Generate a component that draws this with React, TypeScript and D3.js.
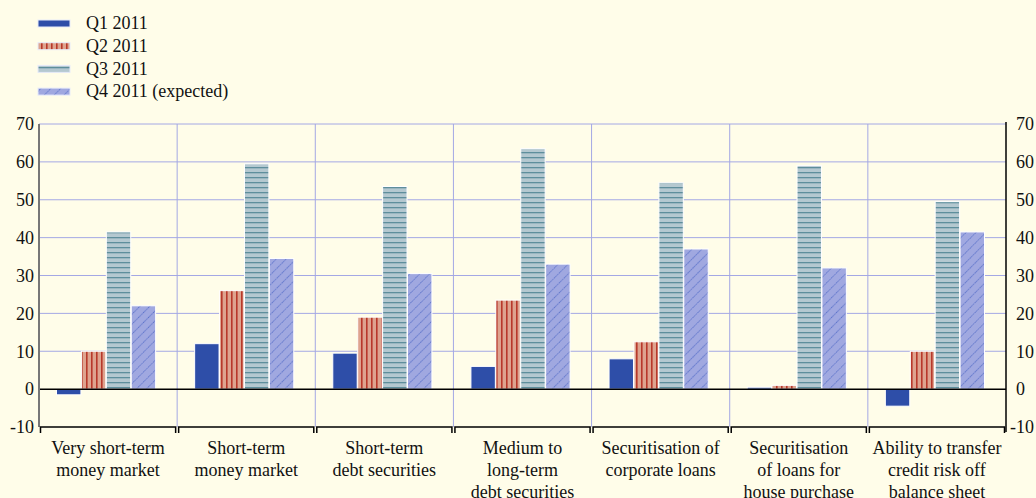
import React, { useRef, useEffect } from 'react';
import * as d3 from 'd3';

const categories = [
  ['Very short-term', 'money market'],
  ['Short-term', 'money market'],
  ['Short-term', 'debt securities'],
  ['Medium to', 'long-term', 'debt securities'],
  ['Securitisation of', 'corporate loans'],
  ['Securitisation', 'of loans for', 'house purchase'],
  ['Ability to transfer', 'credit risk off', 'balance sheet'],
];
const seriesNames = ['Q1 2011', 'Q2 2011', 'Q3 2011', 'Q4 2011 (expected)'];
const q1 = [-1.5, 12, 9.5, 6, 8, 0.5, -4.5];
const q2 = [10, 26, 19, 23.5, 12.5, 1, 10];
const q3 = [41.5, 59.5, 53.5, 63.5, 54.5, 59, 49.5];
const q4 = [22, 34.5, 30.5, 33, 37, 32, 41.5];
const yTicks = [-10, 0, 10, 20, 30, 40, 50, 60, 70];

const W = 1036;
const H = 498;
const FONT = "'Liberation Serif', 'Times New Roman', serif";

export default function App() {
  const ref = useRef<SVGSVGElement | null>(null);

  useEffect(() => {
    if (!ref.current) return;
    document.body.style.margin = '0';
    const svg = d3.select(ref.current);
    svg.selectAll('*').remove();

    const margin = { top: 124, right: 30, bottom: 71, left: 39 };
    const left = margin.left, right = W - margin.right;
    const top = margin.top, bottom = H - margin.bottom;

    svg.append('rect').attr('width', W).attr('height', H).attr('fill', '#fffde9');

    // patterns
    const defs = svg.append('defs');
    const p2 = defs.append('pattern').attr('id', 'pQ2').attr('patternUnits', 'userSpaceOnUse')
      .attr('width', 5).attr('height', 5);
    p2.append('rect').attr('width', 5).attr('height', 5).attr('fill', '#dea38f');
    p2.append('rect').attr('x', 1).attr('width', 1.6).attr('height', 5).attr('fill', '#b8382a');

    const p3 = defs.append('pattern').attr('id', 'pQ3').attr('patternUnits', 'userSpaceOnUse')
      .attr('width', 6).attr('height', 5);
    p3.append('rect').attr('width', 6).attr('height', 5).attr('fill', '#b4c8d0');
    p3.append('rect').attr('y', 2).attr('width', 6).attr('height', 1.3).attr('fill', '#5e8e9c');

    const p4 = defs.append('pattern').attr('id', 'pQ4').attr('patternUnits', 'userSpaceOnUse')
      .attr('width', 7).attr('height', 7).attr('patternTransform', 'rotate(45)');
    p4.append('rect').attr('width', 7).attr('height', 7).attr('fill', '#a0a8e0');
    p4.append('line').attr('x1', 0).attr('y1', 0).attr('x2', 0).attr('y2', 7)
      .attr('stroke', '#3a58c0').attr('stroke-width', 1.3).attr('stroke-dasharray', '1.3,0.9');

    const fills = ['#2e4ea8', 'url(#pQ2)', 'url(#pQ3)', 'url(#pQ4)'];
    const series = [q1, q2, q3, q4];

    const x0 = d3.scaleBand<number>().domain(d3.range(categories.length)).range([left, right]).padding(0);
    const x1 = d3.scaleBand<number>().domain(d3.range(series.length))
      .range([17, x0.bandwidth() - 21]).padding(0.02);
    const y = d3.scaleLinear().domain([-10, 70]).range([bottom, top]);

    // gridlines
    const grid = svg.append('g').attr('stroke', '#a4a8e4').attr('stroke-width', 1);
    yTicks.filter(t => t > -10 && t !== 0).forEach(t => {
      grid.append('line').attr('x1', left).attr('x2', right).attr('y1', y(t)).attr('y2', y(t));
    });
    d3.range(1, categories.length).forEach(i => {
      const xv = x0(i)!;
      grid.append('line').attr('x1', xv).attr('x2', xv).attr('y1', top).attr('y2', bottom);
    });

    // bars
    series.forEach((vals, si) => {
      svg.append('g').selectAll('rect').data(vals).join('rect')
        .attr('x', (_, i) => x0(i)! + x1(si)!)
        .attr('width', x1.bandwidth())
        .attr('y', d => y(Math.max(0, d)))
        .attr('height', d => Math.abs(y(d) - y(0)))
        .attr('fill', fills[si])
        .attr('stroke', '#ffffff').attr('stroke-width', 1);
    });

    // zero line
    svg.append('line').attr('x1', left).attr('x2', right).attr('y1', y(0)).attr('y2', y(0))
      .attr('stroke', '#000').attr('stroke-width', 1.5);

    // left and right axes
    svg.append('line').attr('x1', left).attr('x2', left).attr('y1', top).attr('y2', bottom)
      .attr('stroke', '#777').attr('stroke-width', 2);
    svg.append('line').attr('x1', right).attr('x2', right).attr('y1', top - 2).attr('y2', bottom + 5)
      .attr('stroke', '#000').attr('stroke-width', 1.5);

    // bottom axis brackets
    d3.range(categories.length).forEach(i => {
      const a = x0(i)! + 1.5, b = x0(i)! + x0.bandwidth() - 1.5;
      svg.append('path').attr('d', `M${a},${bottom + 6}V${bottom}H${b}V${bottom + 6}`)
        .attr('fill', 'none').attr('stroke', '#000').attr('stroke-width', 1.5);
    });

    const txt = svg.append('g').attr('font-family', FONT).attr('font-size', 18).attr('fill', '#111');

    // tick labels
    yTicks.forEach(t => {
      txt.append('text').attr('x', left - 5).attr('y', y(t)).attr('dy', '0.35em')
        .attr('text-anchor', 'end').text(t);
      txt.append('text').attr('x', t < 0 ? right + 4 : right + 10).attr('y', y(t)).attr('dy', '0.35em')
        .attr('text-anchor', 'start').text(t);
    });

    // category labels
    categories.forEach((lines, i) => {
      const cx = x0(i)! + x0.bandwidth() / 2;
      lines.forEach((ln, li) => {
        txt.append('text').attr('x', cx).attr('y', bottom + 27 + li * 22)
          .attr('text-anchor', 'middle').text(ln);
      });
    });

    // legend
    seriesNames.forEach((name, i) => {
      const ly = 23 + i * 22.7;
      svg.append('rect').attr('x', 38).attr('y', ly - 3).attr('width', 32).attr('height', 7)
        .attr('fill', fills[i]).attr('stroke', '#e8ecfa').attr('stroke-width', 1);
      txt.append('text').attr('x', 86).attr('y', ly).attr('dy', '0.35em').text(name);
    });
  }, []);

  return (
    <svg ref={ref} width={W} height={H} style={{ display: 'block', position: 'absolute', left: 0, top: 0 }} />
  );
}
